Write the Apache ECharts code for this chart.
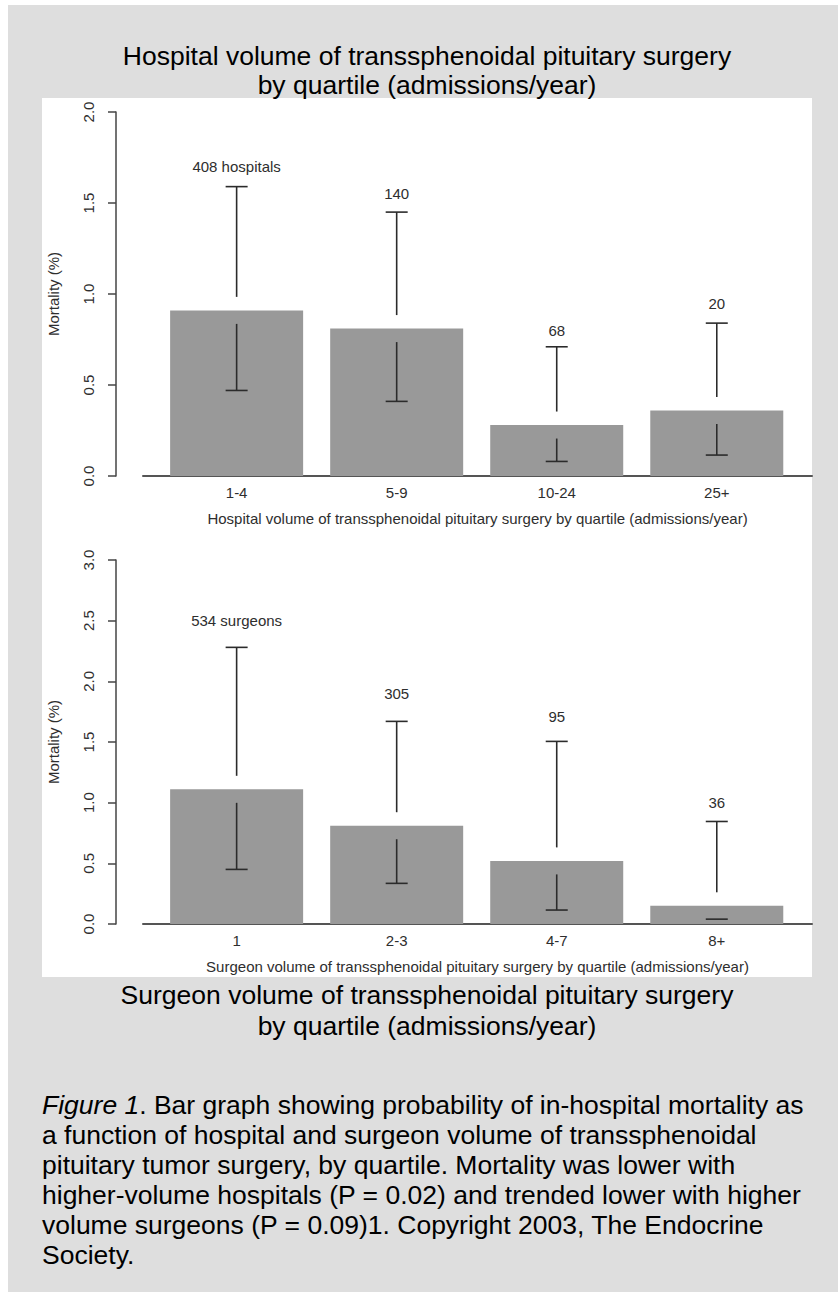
<!DOCTYPE html>
<html><head><meta charset="utf-8">
<script src="https://cdn.jsdelivr.net/npm/echarts@6/dist/echarts.min.js"></script>
<style>html,body{margin:0;padding:0;background:#fff}#c{width:838px;height:1297px}</style>
</head><body><div id="c"></div>
<script>
// ---- Data: hospital volume panel ----
const hospCategories = ['1-4', '5-9', '10-24', '25+'];
const hospMortality = [0.91, 0.81, 0.28, 0.36];
const hospLower = [0.47, 0.41, 0.08, 0.115];
const hospUpper = [1.59, 1.45, 0.71, 0.84];
const hospCounts = ['408 hospitals', '140', '68', '20'];
const hospCountY = [1.70, 1.55, 0.80, 0.95];
const hospYTicks = ['0.0', '0.5', '1.0', '1.5', '2.0'];

// ---- Data: surgeon volume panel ----
const surgCategories = ['1', '2-3', '4-7', '8+'];
const surgMortality = [1.11, 0.81, 0.52, 0.15];
const surgLower = [0.45, 0.335, 0.115, 0.04];
const surgUpper = [2.28, 1.67, 1.505, 0.845];
const surgCounts = ['534 surgeons', '305', '95', '36'];
const surgCountY = [2.5, 1.9, 1.71, 1.0];
const surgYTicks = ['0.0', '0.5', '1.0', '1.5', '2.0', '2.5', '3.0'];

// ---- Text ----
const topTitle = 'Hospital volume of transsphenoidal pituitary surgery\nby quartile (admissions/year)';
const bottomTitle = 'Surgeon volume of transsphenoidal pituitary surgery\nby quartile (admissions/year)';
const hospAxisName = 'Hospital volume of transsphenoidal pituitary surgery by quartile (admissions/year)';
const surgAxisName = 'Surgeon volume of transsphenoidal pituitary surgery by quartile (admissions/year)';
const yName = 'Mortality (%)';
const captionLines = [
  '{i|Figure 1}. Bar graph showing probability of in-hospital mortality as',
  'a function of hospital and surgeon volume of transsphenoidal',
  'pituitary tumor surgery, by quartile. Mortality was lower with',
  'higher-volume hospitals (P = 0.02) and trended lower with higher',
  'volume surgeons (P = 0.09)1. Copyright 2003, The Endocrine',
  'Society.'
];

const FONT = '"Liberation Sans", Arial, Helvetica, sans-serif';
const TXT = '#2e2e2e';
const AX = '#444';

function errRender(params, api) {
  const x = api.value(0), m = api.value(1), lo = api.value(2), hi = api.value(3);
  const pm = api.coord([x, m]), pl = api.coord([x, lo]), ph = api.coord([x, hi]);
  const gap = 13.5, cap = 11;
  const style = { stroke: '#2b2b2b', lineWidth: 1.6 };
  const ch = [];
  if (pm[1] - gap > ph[1]) ch.push({ type: 'line', shape: { x1: pm[0], y1: pm[1] - gap, x2: ph[0], y2: ph[1] }, style });
  ch.push({ type: 'line', shape: { x1: ph[0] - cap, y1: ph[1], x2: ph[0] + cap, y2: ph[1] }, style });
  if (pl[1] > pm[1] + gap) ch.push({ type: 'line', shape: { x1: pm[0], y1: pm[1] + gap, x2: pl[0], y2: pl[1] }, style });
  ch.push({ type: 'line', shape: { x1: pl[0] - cap, y1: pl[1], x2: pl[0] + cap, y2: pl[1] }, style });
  return { type: 'group', children: ch };
}
function labelRender(texts) {
  return function (params, api) {
    const p = api.coord([api.value(0), api.value(1)]);
    return { type: 'text', x: p[0], y: p[1], style: { text: texts[params.dataIndex], align: 'center', verticalAlign: 'middle', fontSize: 15, fontFamily: FONT, fill: TXT } };
  };
}

function xAxisFor(gi, cats, name) {
  return {
    type: 'value', gridIndex: gi, min: -0.585, max: 3.595,
    axisLine: { show: true, onZero: false, lineStyle: { color: '#555', width: 2 } },
    axisTick: { show: false }, splitLine: { show: false },
    axisLabel: { customValues: cats.map((_, i) => i), formatter: v => cats[Math.round(v)], margin: 9, fontSize: 15, color: TXT, fontFamily: FONT },
    name: name, nameLocation: 'middle', nameGap: 35,
    nameTextStyle: { fontSize: 15, color: TXT, fontFamily: FONT }
  };
}
function yAxisFor(gi, ticks) {
  return {
    type: 'value', gridIndex: gi, min: 0, max: (ticks.length - 1) * 0.5, interval: 0.5, offset: 27,
    axisLine: { show: true, onZero: false, lineStyle: { color: AX, width: 1.5 } },
    axisTick: { show: true, length: 8, lineStyle: { color: AX, width: 1.5 } },
    splitLine: { show: false },
    axisLabel: { rotate: 90, margin: 20, formatter: (v, i) => ticks[i], fontSize: 15, color: TXT, fontFamily: FONT },
    name: yName, nameLocation: 'middle', nameGap: 55, nameRotate: 90,
    nameTextStyle: { fontSize: 15, color: TXT, fontFamily: FONT }
  };
}

const chart = echarts.init(document.getElementById('c'), null, { renderer: 'svg' });
chart.setOption({
  backgroundColor: '#ffffff',
  animation: false,
  graphic: [
    { type: 'rect', z: -10, silent: true, shape: { x: 8, y: 5, width: 830, height: 1287 }, style: { fill: '#dedede' } },
    { type: 'rect', z: -9, silent: true, shape: { x: 42, y: 98, width: 770, height: 879 }, style: { fill: '#ffffff' } }
  ],
  title: [
    { text: topTitle, left: 427, top: 42, textAlign: 'center', padding: 0,
      textStyle: { fontSize: 26.5, fontWeight: 'normal', color: '#000', fontFamily: FONT, lineHeight: 28.5 } },
    { text: bottomTitle, left: 427, top: 980, textAlign: 'center', padding: 0,
      textStyle: { fontSize: 26.5, fontWeight: 'normal', color: '#000', fontFamily: FONT, lineHeight: 30.5 } },
    { text: captionLines.join('\n'), left: 42, top: 1090, padding: 0,
      textStyle: { fontSize: 26.5, fontWeight: 'normal', color: '#000', fontFamily: FONT, lineHeight: 30,
        rich: { i: { fontStyle: 'italic', fontSize: 26.5, color: '#000', fontFamily: FONT, lineHeight: 30 } } } }
  ],
  grid: [
    { left: 143, top: 112, width: 669, height: 364 },
    { left: 143, top: 560, width: 669, height: 364 }
  ],
  xAxis: [xAxisFor(0, hospCategories, hospAxisName), xAxisFor(1, surgCategories, surgAxisName)],
  yAxis: [yAxisFor(0, hospYTicks), yAxisFor(1, surgYTicks)],
  series: [
    { type: 'bar', xAxisIndex: 0, yAxisIndex: 0, barWidth: 133, itemStyle: { color: '#999999' },
      data: hospMortality.map((v, i) => [i, v]) },
    { type: 'custom', xAxisIndex: 0, yAxisIndex: 0, renderItem: errRender, z: 5,
      data: hospMortality.map((v, i) => [i, v, hospLower[i], hospUpper[i]]) },
    { type: 'custom', xAxisIndex: 0, yAxisIndex: 0, renderItem: labelRender(hospCounts), z: 5,
      data: hospCountY.map((v, i) => [i, v]) },
    { type: 'bar', xAxisIndex: 1, yAxisIndex: 1, barWidth: 133, itemStyle: { color: '#999999' },
      data: surgMortality.map((v, i) => [i, v]) },
    { type: 'custom', xAxisIndex: 1, yAxisIndex: 1, renderItem: errRender, z: 5,
      data: surgMortality.map((v, i) => [i, v, surgLower[i], surgUpper[i]]) },
    { type: 'custom', xAxisIndex: 1, yAxisIndex: 1, renderItem: labelRender(surgCounts), z: 5,
      data: surgCountY.map((v, i) => [i, v]) }
  ]
});
</script>
</body></html>
